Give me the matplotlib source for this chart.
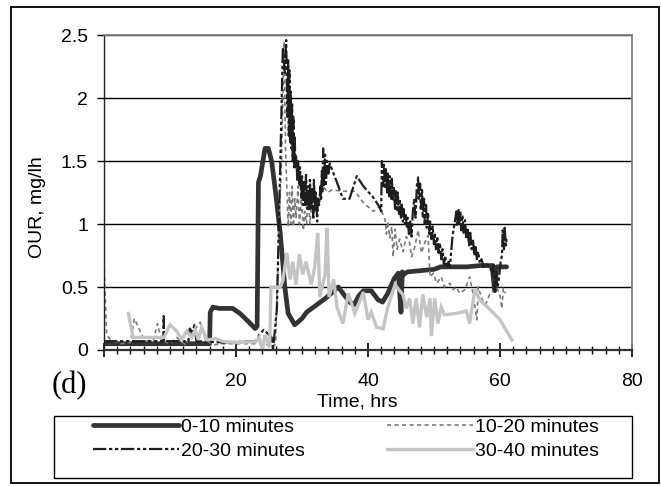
import matplotlib; matplotlib.use("Agg")
import matplotlib.pyplot as plt
from matplotlib.ticker import MultipleLocator, FixedLocator, NullFormatter
from matplotlib.patches import Rectangle

plt.rcParams["font.family"] = ["Liberation Sans", "DejaVu Sans"]

W, H = 661, 486

# series: 0-10 minutes
s1_x = [0, 16.0, 16.1, 16.5, 17.5, 19.5, 20.6, 21.8, 22.9, 23.2,
        23.4, 23.7, 24.4, 24.9, 25.4, 26.0, 26.7, 27.4, 27.9, 28.9,
        30.0, 30.7, 32.0, 33.8, 35.5, 36.2, 37.2, 37.9, 38.6, 39.3,
        40.5, 41.5, 42.2, 43.0, 44.0, 44.6, 45.0, 45.2, 45.4, 46.0,
        48.0, 50.0, 51.0, 53.0, 55.0, 57.0, 58.8, 59.2, 59.5, 60.0, 61.0]
s1_y = [0.05, 0.05, 0.30, 0.34, 0.33, 0.33, 0.29, 0.23, 0.17, 0.19,
        1.33, 1.38, 1.60, 1.60, 1.50, 1.25, 0.93, 0.50, 0.29, 0.20,
        0.25, 0.30, 0.35, 0.42, 0.50, 0.45, 0.38, 0.36, 0.43, 0.47,
        0.47, 0.40, 0.38, 0.45, 0.57, 0.61, 0.30, 0.62, 0.60, 0.62,
        0.63, 0.64, 0.66, 0.66, 0.66, 0.67, 0.67, 0.47, 0.66, 0.66, 0.66]

# series: 10-20 minutes
s2_x = [0, 0.4, 1.0, 2.5, 4.0, 4.6, 5.2, 6.2, 7.5, 8.1,
        8.7, 10, 11, 12.4, 13.2, 14.6, 15.4, 16.5, 18, 24.5,
        25.3, 26.0, 26.3, 26.6, 26.9, 27.1, 27.3, 27.5, 27.7, 27.9,
        28.1, 28.3, 28.5, 28.7, 28.9, 29.1, 29.4, 29.6, 29.9, 30.2,
        30.4, 30.7, 30.9, 31.2, 31.5, 31.8, 32.1, 32.4, 32.8, 33.2,
        33.9, 34.5, 36.2, 38.0, 39.3, 40.8, 41.8, 42.6, 42.8, 43.0,
        43.3, 43.6, 43.8, 44.1, 44.4, 44.8, 45.3, 45.8, 46.3, 46.6,
        47.1, 47.6, 48.1, 48.6, 49.1, 49.4, 49.9, 50.4, 51.1, 51.6,
        52.4, 52.9, 53.4, 53.9, 54.7, 55.4, 55.9, 56.5, 56.7, 57.3,
        57.8, 58.5, 59.5, 60.0, 60.3, 60.5, 60.8]
s2_y = [0.70, 0.12, 0.08, 0.05, 0.06, 0.25, 0.18, 0.07, 0.08, 0.21,
        0.08, 0.05, 0.10, 0.04, 0.12, 0.22, 0.08, 0.04, 0.05, 0.05,
        0.02, 0.05, 0.60, 1.10, 1.50, 2.00, 2.45, 1.60, 1.30, 0.98,
        1.25, 1.00, 1.30, 0.98, 1.20, 1.05, 1.30, 1.00, 1.20, 0.95,
        1.10, 1.00, 1.25, 1.00, 1.20, 1.05, 1.25, 1.10, 1.28, 1.30,
        1.25, 1.27, 1.26, 1.26, 1.17, 1.10, 1.14, 1.03, 0.92, 1.02,
        0.89, 0.98, 0.74, 0.96, 0.80, 0.88, 0.78, 0.90, 0.85, 0.74,
        0.82, 0.95, 0.77, 0.85, 0.91, 0.58, 0.61, 0.53, 0.58, 0.50,
        0.53, 0.48, 0.50, 0.45, 0.48, 0.58, 0.45, 0.24, 0.50, 0.40,
        0.36, 0.45, 0.50, 0.43, 0.33, 0.49, 0.45]

# series: 20-30 minutes
s3_x = [0, 9.0, 9.05, 9.1, 12.8, 13.0, 13.4, 13.7, 14.0, 18,
        23.0, 23.5, 24.2, 25.0, 25.4, 25.6, 26.2, 26.7, 27.1, 27.4,
        27.6, 27.8, 27.9, 28.0, 28.1, 28.2, 28.3, 28.4, 28.5, 28.6,
        28.7, 28.8, 28.9, 29.0, 29.1, 29.3, 29.4, 29.6, 29.7, 29.9,
        30.0, 30.2, 30.3, 30.5, 30.6, 30.8, 30.9, 31.1, 31.2, 31.4,
        31.5, 31.7, 31.8, 32.0, 32.1, 32.3, 32.4, 32.6, 32.8, 32.9,
        33.0, 33.1, 33.2, 33.35, 33.5, 33.6, 33.8, 34.0, 34.2, 35.3,
        36.2, 37.2, 38.3, 39.3, 40.8, 41.8, 42.0, 42.1, 42.3, 42.4,
        42.6, 42.7, 42.9, 43.0, 43.2, 43.3, 43.5, 43.6, 43.8, 43.9,
        44.1, 44.2, 44.4, 44.5, 44.7, 44.8, 45.0, 45.1, 45.3, 45.4,
        45.6, 45.7, 45.9, 46.0, 46.2, 46.4, 46.6, 46.8, 47.0, 47.2,
        47.4, 47.6, 47.7, 47.9, 48.0, 48.2, 48.3, 48.5, 48.6, 48.8,
        48.9, 49.1, 49.3, 49.4, 49.6, 49.8, 50.0, 50.1, 50.3, 50.5,
        50.7, 50.9, 51.1, 51.3, 51.5, 51.7, 51.9, 52.2, 52.4, 52.8,
        53.2, 53.4, 53.5, 53.7, 53.8, 54.0, 54.1, 54.3, 54.5, 54.7,
        54.9, 55.1, 55.3, 55.5, 55.7, 55.9, 56.1, 56.3, 56.5, 56.7,
        56.9, 57.2, 57.5, 58.0, 58.5, 58.8, 59.0, 59.2, 59.4, 59.6,
        59.8, 60.1, 60.3, 60.4, 60.6, 60.7, 60.9, 61.0]
s3_y = [0.07, 0.07, 0.27, 0.07, 0.07, 0.17, 0.14, 0.20, 0.07, 0.06,
        0.07, 0.12, 0.16, 0.12, 0.10, 0.00, 0.33, 1.45, 2.40, 2.20,
        2.46, 1.85, 2.30, 1.70, 2.22, 1.65, 2.05, 1.60, 1.95, 1.50,
        1.85, 1.45, 1.70, 1.45, 1.55, 1.35, 1.50, 1.30, 1.45, 1.20,
        1.38, 1.15, 1.35, 1.15, 1.40, 1.12, 1.30, 1.10, 1.35, 1.12,
        1.28, 1.05, 1.35, 1.10, 1.25, 1.02, 1.20, 1.15, 1.30, 1.20,
        1.42, 1.25, 1.60, 1.30, 1.55, 1.30, 1.50, 1.40, 1.48, 1.33,
        1.20, 1.20, 1.38, 1.30, 1.21, 1.13, 1.10, 1.50, 1.30, 1.47,
        1.28, 1.45, 1.25, 1.40, 1.22, 1.38, 1.20, 1.36, 1.18, 1.30,
        1.12, 1.27, 1.10, 1.25, 1.08, 1.20, 1.05, 1.17, 1.02, 1.12,
        1.00, 1.08, 0.97, 1.05, 0.92, 1.02, 0.90, 1.10, 1.20, 1.05,
        1.30, 1.37, 1.20, 1.32, 1.12, 1.27, 1.05, 1.20, 1.00, 1.15,
        0.97, 1.08, 0.92, 1.03, 0.88, 0.98, 0.84, 0.93, 0.80, 0.90,
        0.77, 0.85, 0.72, 0.80, 0.68, 0.75, 0.65, 0.70, 0.66, 0.90,
        1.03, 1.10, 0.98, 1.12, 1.00, 1.10, 0.95, 1.07, 0.93, 1.03,
        0.88, 0.97, 0.83, 0.93, 0.80, 0.88, 0.75, 0.83, 0.72, 0.78,
        0.70, 0.72, 0.66, 0.68, 0.66, 0.60, 0.68, 0.47, 0.62, 0.50,
        0.55, 0.70, 0.75, 0.95, 0.80, 0.97, 0.83, 0.90]

# series: 30-40 minutes
s4_x = [3.7, 4.4, 6.0, 9.1, 10.0, 11.0, 11.8, 12.5, 13.3, 13.8,
        14.3, 14.8, 15.6, 16.9, 17.9, 20.0, 23.0, 23.5, 24.0, 24.4,
        25.1, 25.3, 26.7, 27.1, 27.7, 28.2, 28.6, 29.1, 29.6, 30.1,
        30.6, 31.4, 31.9, 32.4, 32.7, 33.5, 33.8, 34.1, 34.8, 35.3,
        36.2, 37.0, 38.0, 39.3, 40.0, 40.5, 41.3, 42.3, 43.0, 44.1,
        44.8, 45.3, 45.8, 46.3, 46.8, 47.3, 47.8, 48.3, 48.9, 49.4,
        49.6, 50.1, 50.6, 51.1, 51.6, 53.4, 54.9, 55.4, 56.2, 56.9,
        58.5, 60.0, 61.8]
s4_y = [0.29, 0.10, 0.10, 0.10, 0.20, 0.15, 0.08, 0.15, 0.10, 0.16,
        0.08, 0.18, 0.08, 0.09, 0.07, 0.06, 0.065, 0.10, 0.00, 0.12,
        0.02, 0.50, 0.50, 0.55, 0.77, 0.56, 0.70, 0.52, 0.76, 0.60,
        0.70, 0.52, 0.65, 0.93, 0.42, 0.60, 0.97, 0.42, 0.56, 0.34,
        0.21, 0.45, 0.29, 0.46, 0.24, 0.30, 0.18, 0.17, 0.34, 0.52,
        0.47, 0.44, 0.33, 0.41, 0.21, 0.41, 0.18, 0.44, 0.26, 0.41,
        0.11, 0.41, 0.21, 0.34, 0.28, 0.29, 0.31, 0.21, 0.48, 0.40,
        0.32, 0.24, 0.08]

labels = ["0-10 minutes", "10-20 minutes", "20-30 minutes", "30-40 minutes"]
xticks = [0, 20, 40, 60, 80]
xticklabels = ["", "20", "40", "60", "80"]
yticks = [0, 0.5, 1, 1.5, 2, 2.5]
yticklabels = ["0", "0.5", "1", "1.5", "2", "2.5"]

fig = plt.figure(figsize=(W / 100, H / 100), dpi=100)
ax = fig.add_axes([104 / W, (H - 350) / H, 528 / W, 315 / H])

l1, = ax.plot(s1_x, s1_y, color="#333333", lw=3.4, solid_joinstyle="round", solid_capstyle="round")
l2, = ax.plot(s2_x, s2_y, color="#7a7a7a", lw=1.2, ls=(0, (2.5, 2.0)))
l3, = ax.plot(s3_x, s3_y, color="#1e1e1e", lw=1.6, ls=(0, (6, 1.2, 1.5, 1.2, 1.5, 1.2)))
l4, = ax.plot(s4_x, s4_y, color="#c4c4c4", lw=2.4, solid_joinstyle="miter")

ax.set_xlim(0, 80)
ax.set_ylim(0, 2.5)
ax.xaxis.set_major_locator(FixedLocator(xticks))
ax.set_xticklabels(xticklabels)
ax.xaxis.set_minor_locator(MultipleLocator(2))
ax.xaxis.set_minor_formatter(NullFormatter())
ax.set_yticks(yticks)
ax.set_yticklabels(yticklabels)
ax.tick_params(axis="x", which="major", direction="inout", length=10, width=1.2, pad=11.5, labelsize=14)
ax.tick_params(axis="x", which="minor", direction="inout", length=5.5, width=1.0)
ax.tick_params(axis="y", which="major", direction="out", length=5, width=1.0, pad=6.5, labelsize=14)

ax.grid(axis="y", color="black", lw=1.0)
ax.set_axisbelow(True)
for side in ["top", "right"]:
    ax.spines[side].set_color("#808080")
    ax.spines[side].set_linewidth(1.3)
ax.spines["left"].set_color("#222222")
ax.spines["left"].set_linewidth(1.0)
ax.spines["bottom"].set_color("#333333")
ax.spines["bottom"].set_linewidth(1.6)

fig.text(38 / W, 1 - 207 / H, "OUR, mg/lh", rotation=90, ha="center", va="center", fontsize=14)
fig.text(357 / W, 1 - 402 / H, "Time, hrs", ha="center", va="center", fontsize=14)
fig.text(69 / W, 1 - 386 / H, "(d)", ha="center", va="center", fontsize=22, family="Liberation Serif")

# legend box and frame
fig.add_artist(Rectangle((54 / W, (H - 478) / H), 578 / W, 62 / H, transform=fig.transFigure,
                         fill=False, ec="black", lw=1.0))
fig.add_artist(Rectangle((11 / W, (H - 483) / H), 648 / W, 476 / H, transform=fig.transFigure,
                         fill=False, ec="black", lw=1.3))
# matplotlib fills legend columns first, so order handles to read row by row
fig.legend([l1, l3, l2, l4], [labels[0], labels[2], labels[1], labels[3]],
           loc="upper left", bbox_to_anchor=(93 / W, (H - 418) / H), ncol=2, frameon=False,
           fontsize=14, handlelength=4.4, handletextpad=0.15, columnspacing=4.2,
           labelspacing=0.35, borderpad=0, borderaxespad=0)

fig.savefig("out.png", dpi=100)
